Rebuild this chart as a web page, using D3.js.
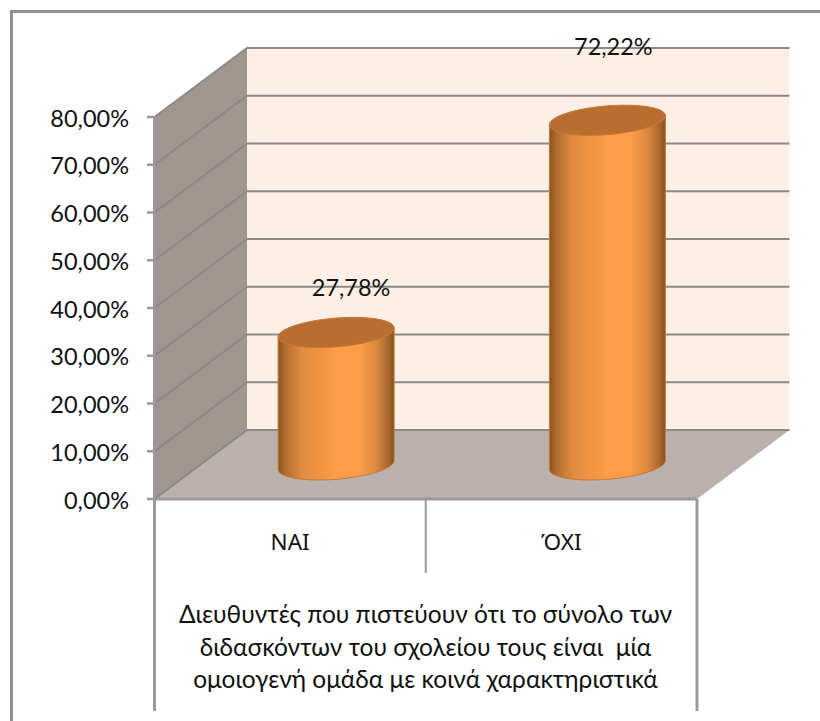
<!DOCTYPE html>
<html><head><meta charset="utf-8"><script src="https://cdn.jsdelivr.net/npm/d3@7"></script>
<style>html,body{margin:0;padding:0;background:#fff}svg{display:block}text{font-family:"Lato","Noto Sans",sans-serif;fill:#111}</style></head>
<body><svg id="c" width="820" height="721"></svg>
<script>
const categories = ["ΝΑΙ", "ΌΧΙ"];
const values = [27.78, 72.22];
const valueLabels = ["27,78%", "72,22%"];
const tickValues = [0, 10, 20, 30, 40, 50, 60, 70, 80];
const tickLabels = ["0,00%", "10,00%", "20,00%", "30,00%", "40,00%", "50,00%", "60,00%", "70,00%", "80,00%"];
const titleLines = ["Διευθυντές που πιστεύουν ότι το σύνολο των", "διδασκόντων του σχολείου τους είναι  μία", "ομοιογενή ομάδα με κοινά χαρακτηριστικά"];

const svg = d3.select("#c");
const grid = "#8c8a88", axisC = "#9a9a9a";
const y = d3.scaleLinear().domain([0, 80]).range([499, 117]);
const x = d3.scaleBand().domain(categories).range([154.5, 697]);
const dx = 92.5, dy = -69;
const fs = 23.5;

const defs = svg.append("defs");
const g = defs.append("linearGradient").attr("id", "cyl");
[[0,"#8a5220"],[0.06,"#b06c2e"],[0.2,"#e08b40"],[0.42,"#f59743"],[0.5,"#ff9d48"],[0.7,"#ff9d48"],[0.85,"#d98840"],[0.95,"#a9672e"],[1,"#85501f"]]
  .forEach(([o,c]) => g.append("stop").attr("offset", o).attr("stop-color", c));

svg.append("path").attr("d", "M11.5,721V11.5H820").attr("fill", "none").attr("stroke", "#8f8f8f").attr("stroke-width", 3);

const poly = d3.line();
const [x0, x1] = x.range();
svg.append("path").attr("d", poly([[x0+dx, y(80)+dy],[x1+dx, y(80)+dy],[x1+dx, y(0)+dy],[x0+dx, y(0)+dy]])+"Z").attr("fill", "#fdefe5");
svg.append("path").attr("d", poly([[x0, y(80)],[x0+dx, y(80)+dy],[x0+dx, y(0)+dy],[x0, y(0)]])+"Z").attr("fill", "#a0968f");
svg.append("path").attr("d", poly([[x0, y(0)],[x0+dx, y(0)+dy],[x1+dx, y(0)+dy],[x1, y(0)]])+"Z").attr("fill", "#bab1ac");

tickValues.forEach(v => {
  svg.append("path").attr("d", poly([[x0, y(v)],[x0+dx, y(v)+dy],[x1+dx, y(v)+dy]]))
    .attr("fill", "none").attr("stroke", grid).attr("stroke-width", 2);
});

const stroke = (pts, w) => svg.append("path").attr("d", poly(pts)).attr("stroke", axisC).attr("stroke-width", w).attr("fill","none");
stroke([[x0, y(80)],[x0, 711]], 3);
stroke([[x1, y(0)],[x1, 711]], 3);
stroke([[x0, y(0)],[x1, y(0)]], 3);
stroke([[x(categories[1]), y(0)],[x(categories[1]), 573]], 2);
tickValues.forEach((v,i) => {
  stroke([[147, y(v)],[x0, y(v)]], 2.5);
  svg.append("text").attr("x", 129).attr("y", y(v)+9.5).attr("text-anchor","end").attr("font-size", fs).text(tickLabels[i]);
});

const rx = 58, ry = 14.3, sk = 4.5, baseOffset = 34;
const labelShift = [[15, -36], [6, -65]];
const ell = (cx, cy, t) => [cx + rx*Math.cos(t), cy - sk*Math.cos(t) + ry*Math.sin(t)];
categories.forEach((c,i) => {
  const mid = x(c) + x.bandwidth()/2;
  const cx = mid + 46;
  const yb = y(0) - baseOffset, yt = y(values[i]) - baseOffset;
  const front = d3.range(0, 41).map(k => ell(cx, yb, Math.PI*k/40));
  const topBack = d3.range(0, 41).map(k => ell(cx, yt, Math.PI - Math.PI*k/40));
  svg.append("path").attr("d", poly(front.concat(topBack))+"Z").attr("fill","url(#cyl)").attr("stroke","#c87a35").attr("stroke-width",1);
  const top = d3.range(0, 81).map(k => ell(cx, yt, 2*Math.PI*k/80));
  svg.append("path").attr("d", poly(top)+"Z").attr("fill","#b96d2f").attr("stroke","#c47733").attr("stroke-width",1);
  svg.append("text").attr("x", cx+labelShift[i][0]).attr("y", yt+labelShift[i][1]).attr("text-anchor","middle").attr("font-size",fs).text(valueLabels[i]);
  svg.append("text").attr("x", mid).attr("y", 550).attr("text-anchor","middle").attr("font-size",22.5).style("font-family","'Noto Sans',sans-serif").text(c);
});
titleLines.forEach((l,i) => {
  svg.append("text").attr("x", 425.5).attr("y", 623+i*32.5).attr("text-anchor","middle").attr("font-size",24.5).style("white-space","pre").text(l);
});
</script></body></html>
